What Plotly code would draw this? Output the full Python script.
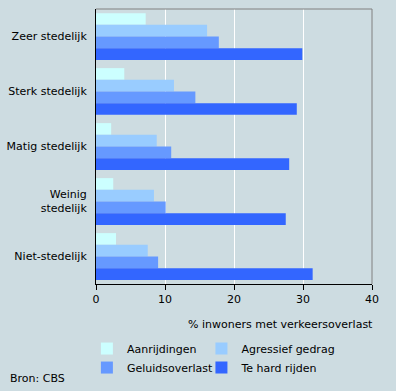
import plotly.graph_objects as go

categories = ["Zeer stedelijk", "Sterk stedelijk", "Matig stedelijk", "Weinig<br>stedelijk", "Niet-stedelijk"]
aanrijdingen = [7.2, 4.1, 2.2, 2.5, 2.9]
agressief = [16.1, 11.3, 8.8, 8.4, 7.5]
geluidsoverlast = [17.8, 14.4, 10.9, 10.1, 9.0]
te_hard = [29.9, 29.1, 28.0, 27.5, 31.4]
series_names = ["Aanrijdingen", "Agressief gedrag", "Geluidsoverlast", "Te hard rijden"]
colors = ["#CCFFFF", "#99CCFF", "#6699FF", "#3366FF"]
legend_ids = ["legend", "legend2", "legend", "legend2"]
x_ticks = [0, 10, 20, 30, 40]

bg = "#CDDCE1"
font = dict(family="DejaVu Sans, Verdana, sans-serif", size=11, color="black")

fig = go.Figure()
for name, vals, col, lg in zip(series_names, [aanrijdingen, agressief, geluidsoverlast, te_hard],
                               colors, legend_ids):
    fig.add_trace(go.Bar(y=categories, x=vals, name=name, orientation="h", legend=lg,
                         marker=dict(color=col, line=dict(width=0))))

leg_common = dict(orientation="v", xanchor="left", yanchor="top",
                  traceorder="normal", bgcolor="rgba(0,0,0,0)",
                  font=font, itemwidth=30, tracegroupgap=0, borderwidth=0)

fig.update_layout(
    width=396, height=391,
    margin=dict(l=96, r=24, t=9, b=107),
    paper_bgcolor=bg, plot_bgcolor=bg,
    font=font,
    barmode="group", bargap=0.15, bargroupgap=0,
    showlegend=True,
    legend=dict(x=-0.033, y=-0.182, **leg_common),
    legend2=dict(x=0.382, y=-0.182, **leg_common),
    xaxis=dict(range=[0, 40], tickvals=x_ticks, showgrid=True, gridcolor="white", gridwidth=1,
               showline=True, linecolor="black", linewidth=1, ticks="outside", ticklen=5,
               tickcolor="black", zeroline=False, fixedrange=True, automargin=False),
    yaxis=dict(autorange="reversed", showline=True, linecolor="black", linewidth=1,
               ticks="", showgrid=False, zeroline=False, ticklabelstandoff=6,
               automargin=False),
    shapes=[
        dict(type="line", xref="paper", yref="paper", x0=0, x1=1, y0=1, y1=1,
             line=dict(color="#808080", width=1)),
        dict(type="line", xref="paper", yref="paper", x0=1, x1=1, y0=0, y1=1,
             line=dict(color="#808080", width=1)),
    ],
    annotations=[
        dict(text="% inwoners met verkeersoverlast", xref="paper", yref="paper",
             x=1.012, y=-0.115, xanchor="right", yanchor="top", showarrow=False, font=font),
        dict(text="Bron: CBS", xref="paper", yref="paper", x=-0.319, y=-0.313,
             xanchor="left", yanchor="top", showarrow=False, font=font),
    ],
)

fig.write_html("out.html", config={"displayModeBar": False},
               post_script="document.body.style.margin='0';")
